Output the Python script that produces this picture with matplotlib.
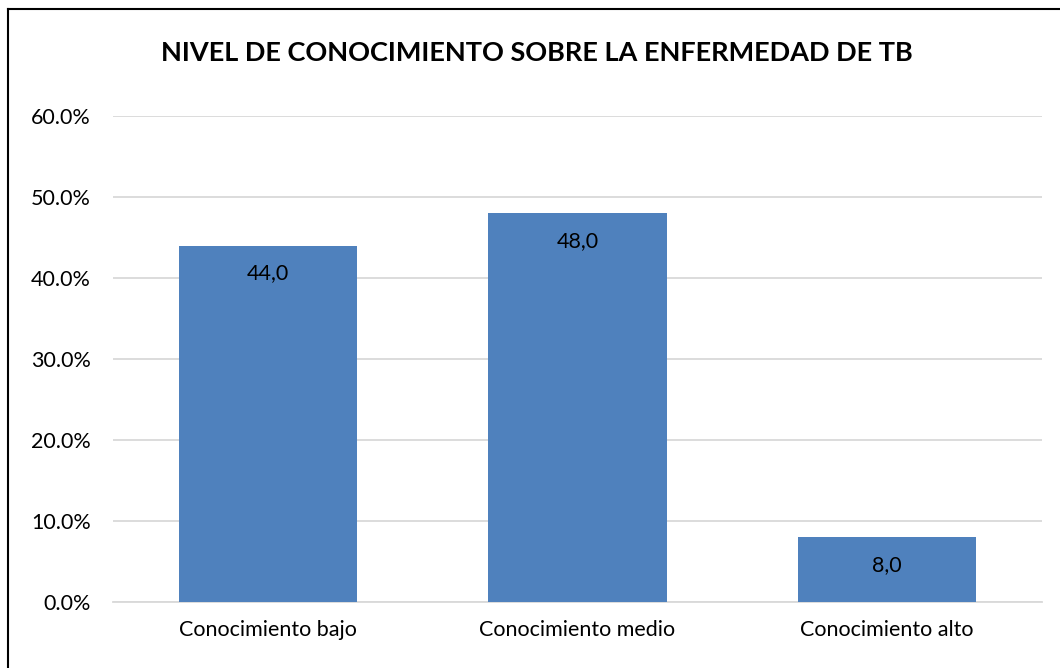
import matplotlib
matplotlib.use("Agg")
import matplotlib.pyplot as plt
from matplotlib.lines import Line2D

categories = ["Conocimiento bajo", "Conocimiento medio", "Conocimiento alto"]
values = [44.0, 48.0, 8.0]
labels = ["44,0", "48,0", "8,0"]
yticks = [0, 10, 20, 30, 40, 50, 60]

plt.rcParams["font.family"] = ["Lato", "DejaVu Sans"]

fig = plt.figure(figsize=(10.6, 6.68), dpi=100)
ax = fig.add_axes([113 / 1060, 1 - 602 / 668, 929 / 1060, 486 / 668])

x = range(len(categories))
bars = ax.bar(x, values, width=0.575, color="#4F81BD", zorder=3)

for b, lab in zip(bars, labels):
    ax.annotate(lab, (b.get_x() + b.get_width() / 2, b.get_height()),
                xytext=(0, -20), textcoords="offset points",
                ha="center", va="center", fontsize=15.5, color="black", zorder=4)

ax.set_xlim(-0.5, len(categories) - 0.5)
ax.set_ylim(0, 60)
ax.set_yticks(yticks)
ax.set_yticklabels(["%.1f%%" % t for t in yticks], fontsize=15.5)
ax.set_xticks(list(x))
ax.set_xticklabels(categories, fontsize=15.5)
ax.tick_params(axis="both", length=0)
ax.tick_params(axis="y", pad=16)
ax.tick_params(axis="x", pad=13)
ax.yaxis.grid(True, color="#D9D9D9", linewidth=1.3, zorder=0)
for s in ["top", "right", "left"]:
    ax.spines[s].set_visible(False)
ax.spines["bottom"].set_color("#D9D9D9")
ax.spines["bottom"].set_linewidth(1.3)

fig.text(537 / 1060, 1 - 53 / 668, "NIVEL DE CONOCIMIENTO SOBRE LA ENFERMEDAD DE TB",
         ha="center", va="center", fontsize=19.5, fontweight="bold")

# outer frame (only left and top edges visible in the crop)
fig.add_artist(Line2D([8 / 1060, 8 / 1060], [0, 1 - 9 / 668], transform=fig.transFigure,
                      color="black", linewidth=1.5))
fig.add_artist(Line2D([8 / 1060, 1], [1 - 9 / 668, 1 - 9 / 668], transform=fig.transFigure,
                      color="black", linewidth=1.5))

fig.savefig("out.png", dpi=100, facecolor="white")
